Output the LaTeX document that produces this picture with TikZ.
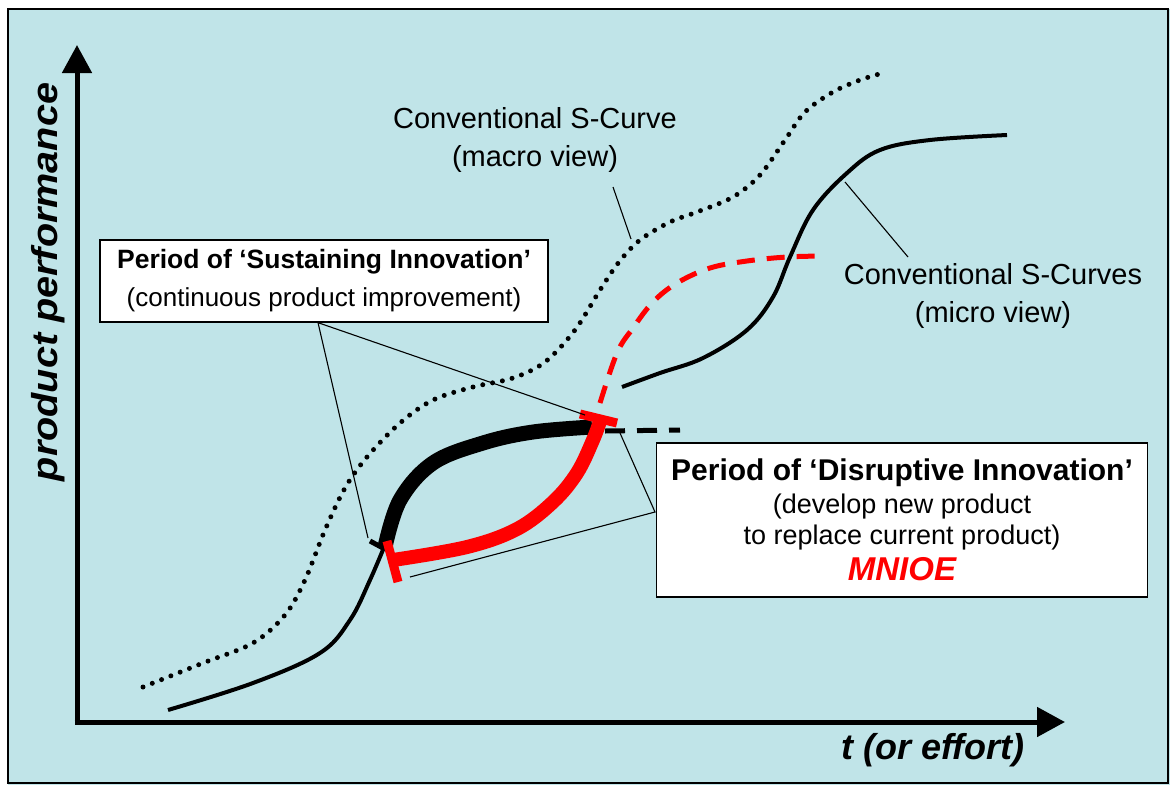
\documentclass[tikz,border=0pt]{standalone}
\usepackage{fontspec}
\setmainfont{Liberation Sans}
\usetikzlibrary{arrows.meta}
\definecolor{fond}{RGB}{192,228,232}
\definecolor{rouge}{RGB}{255,0,0}

\tikzset{
  boite/.style={draw=black, line width=1.3pt, fill=white, align=center, inner sep=0pt},
  etiq/.style={align=center, font=\fontsize{29}{38}\selectfont},
  lien/.style={line width=1.1pt},
  axe/.style={line width=5pt, -{Triangle[length=28pt,width=29pt]}},
  titre/.style={font=\fontsize{36}{40}\selectfont\bfseries\itshape},
}

\begin{document}
\begin{tikzpicture}[x=1pt,y=-1pt]
    % Fond et cadre
    \useasboundingbox (0,0) rectangle (1170,785);
    \fill[fond] (8,9) rectangle (1170,785);
    \draw[line width=1.5pt] (8,9) rectangle (1168,783);

    % Axes
    \coordinate (O) at (77,722);
    \coordinate (Y) at (77,45);
    \coordinate (X) at (1065,722);
    \draw[axe] ([yshift=-2.5pt]O) -- (Y);
    \draw[axe] ([xshift=-2.5pt]O) -- (X);
    \node[titre, rotate=90] (yl) at (48,282) {\scalebox{1.1}[1]{product performance}};
    \node[titre] (xl) at (933,750) {t (or effort)};

    % Courbe en S (vue macro), en pointille
    \draw[line width=5pt, line cap=round, dash pattern=on 0pt off 10pt]
        plot[smooth, tension=0.55] coordinates {(143,687) (203,663) (253,643) (285,615) (305,580)
        (325,530) (345,488) (367,457) (400,423) (433,400) (473,387) (513,378) (545,362)
        (575,330) (600,290) (619,262) (640,240) (670,222) (697,212) (733,197) (760,175)
        (785,140) (805,112) (833,92) (860,80) (883,73)};

    % Premiere courbe en S (vue micro)
    \draw[line width=4pt]
        plot[smooth, tension=0.6] coordinates {(168,710) (253,683) (320,653) (350,620) (370,580) (387,540)};
    \draw[line width=15pt]
        plot[smooth, tension=0.6] coordinates {(385,547) (400,500) (433,463) (483,443) (533,432) (592,427)};
    \draw[line width=5pt] (370,541) -- (383,548);
    \draw[line width=5pt, dash pattern=on 20pt off 12pt] (605,431) -- (680,430);

    % Deuxieme courbe en S (vue micro)
    \draw[line width=4pt]
        plot[smooth, tension=0.6] coordinates {(622,387) (660,373) (703,358) (747,330) (773,297)
        (790,257) (813,210) (847,173) (880,150) (930,140) (1007,135)};

    % Nouveau produit (rouge)
    \draw[rouge, line width=5pt, dash pattern=on 18pt off 12pt]
        plot[smooth, tension=0.6] coordinates {(600,403) (617,353) (633,328) (653,302) (677,283)
        (710,268) (747,261) (787,257) (825,256)};
    \draw[rouge, line width=14pt]
        plot[smooth, tension=0.6] coordinates {(393,560) (467,547) (517,529) (553,502) (577,473)
        (593,440) (600,421)};
    \draw[rouge, line width=9pt] (387,541) -- (398,582);
    \draw[rouge, line width=9pt] (580,414) -- (617,423);

    % Points d'attache des traits de rappel
    \coordinate (debut) at (368,538);
    \coordinate (fin) at (585,415);
    \coordinate (finr) at (620,433);
    \coordinate (baser) at (410,577);
    \coordinate (dpt) at (655,512);
    \coordinate (cmacro) at (631,239);
    \coordinate (lmacro) at (613,187);
    \coordinate (cmicro) at (845,182);
    \coordinate (lmicro) at (908,257);

    % Etiquettes des courbes
    \node[etiq] (macro) at (535,140) {Conventional S-Curve\\(macro view)};
    \node[etiq] (micro) at (993,296) {Conventional S-Curves\\(micro view)};
    \draw[lien] (lmacro) -- (cmacro);
    \draw[lien] (cmicro) -- (lmicro);

    % Encadre : innovation continue
    \node[boite, minimum width=448pt, minimum height=82pt, font=\fontsize{26}{38}\selectfont]
        (sust) at (324,281)
        {{\fontsize{26.5}{30}\selectfont\bfseries Period of `Sustaining Innovation'}\\
         (continuous product improvement)};
    \draw[lien] ([xshift=-6pt]sust.south) -- (debut);
    \draw[lien] ([xshift=-6pt]sust.south) -- (fin);

    % Encadre : innovation de rupture
    \node[boite, minimum width=491pt, minimum height=154pt, font=\fontsize{27}{33}\selectfont]
        (disr) at (902,520)
        {{\fontsize{30}{34}\selectfont\bfseries Period of `Disruptive Innovation'}\\
         (develop new product\\[-2pt]
         to replace current product)\\[3pt]
         {\fontsize{33}{36}\selectfont\bfseries\itshape\color{rouge}MNIOE}};
    \draw[lien] (finr) -- (dpt) -- (baser);
\end{tikzpicture}
\end{document}
